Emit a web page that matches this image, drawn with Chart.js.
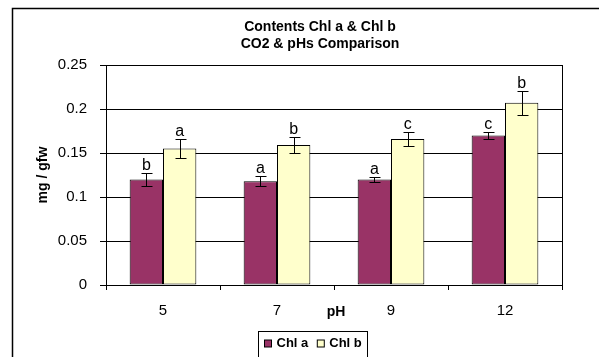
<!DOCTYPE html>
<html>
<head>
<meta charset="utf-8">
<script src="https://cdn.jsdelivr.net/npm/chart.js@4/dist/chart.umd.min.js"></script>
<style>
html,body{margin:0;padding:0;background:#fff;}
#wrap{width:599px;height:357px;position:relative;}
</style>
</head>
<body>
<div id="wrap"><canvas id="c" width="599" height="357"></canvas></div>
<script>
const categories = ['5', '7', '9', '12'];
const chlA = [0.120, 0.118, 0.120, 0.170];
const chlB = [0.155, 0.159, 0.166, 0.207];
const errA = [0.0075, 0.006, 0.0027, 0.0043];
const errB = [0.011, 0.009, 0.0083, 0.0135];
const lettersA = ['b', 'a', 'a', 'c'];
const lettersB = ['a', 'b', 'c', 'b'];
const yTickLabels = ['0', '0.05', '0.1', '0.15', '0.2', '0.25'];
const titleLines = ['Contents Chl a & Chl b', 'CO2 & pHs Comparison'];
const xTitle = 'pH';
const yTitle = 'mg / gfw';

const FONT = "'Liberation Sans', Arial, sans-serif";
const errs = [errA, errB];
const letters = [lettersA, lettersB];

const decor = {
  id: 'decor',
  beforeDraw(chart) {
    const ctx = chart.ctx;
    ctx.save();
    ctx.fillStyle = '#fff';
    ctx.fillRect(0, 0, chart.width, chart.height);
    ctx.strokeStyle = '#000';
    ctx.lineWidth = 1.5;
    ctx.strokeRect(12.5, 8.5, 700, 500);
    ctx.restore();
  },
  afterDatasetsDraw(chart) {
    const ctx = chart.ctx;
    const y = chart.scales.y;
    const ca = chart.chartArea;
    ctx.save();
    // plot frame right edge
    ctx.strokeStyle = '#000';
    ctx.lineWidth = 1;
    ctx.beginPath();
    ctx.moveTo(Math.round(ca.right) + 0.5, ca.top);
    ctx.lineTo(Math.round(ca.right) + 0.5, ca.bottom);
    ctx.stroke();
    // error bars and letters
    chart.data.datasets.forEach((ds, di) => {
      const meta = chart.getDatasetMeta(di);
      meta.data.forEach((bar, i) => {
        const v = ds.data[i];
        const e = errs[di][i];
        const x = Math.round(bar.x) + 0.5;
        const yt = Math.round(y.getPixelForValue(v + e)) + 0.5;
        const yb = Math.round(y.getPixelForValue(v - e)) + 0.5;
        ctx.strokeStyle = '#000';
        ctx.lineWidth = 1;
        ctx.beginPath();
        ctx.moveTo(x, yt); ctx.lineTo(x, yb);
        ctx.moveTo(x - 5, yt); ctx.lineTo(x + 6, yt);
        ctx.moveTo(x - 5, yb); ctx.lineTo(x + 6, yb);
        ctx.stroke();
        ctx.fillStyle = '#000';
        ctx.font = '16px ' + FONT;
        ctx.textAlign = 'center';
        ctx.textBaseline = 'alphabetic';
        ctx.fillText(letters[di][i], bar.x, yt - 4);
      });
    });
    // title
    ctx.fillStyle = '#000';
    ctx.font = 'bold 14px ' + FONT;
    ctx.textAlign = 'center';
    ctx.textBaseline = 'middle';
    ctx.fillText(titleLines[0], 320, 27);
    ctx.fillText(titleLines[1], 320, 44);
    // x title (inline with ticks)
    ctx.font = 'bold 14px ' + FONT;
    ctx.fillText(xTitle, 336, 312);
    // y title
    ctx.save();
    ctx.translate(43, (ca.top + ca.bottom) / 2);
    ctx.rotate(-Math.PI / 2);
    ctx.fillText(yTitle, 0, 0);
    ctx.restore();
    // legend
    ctx.font = 'bold 13px ' + FONT;
    const sq = 7, gapSq = 5, gapItem = 9, pad = 6;
    const items = chart.data.datasets.map(d => ({label: d.label, color: d.backgroundColor, w: ctx.measureText(d.label).width}));
    let total = pad * 2;
    items.forEach((it, k) => { total += sq + gapSq + it.w + (k < items.length - 1 ? gapItem : 0); });
    const cx = 312.5;
    const bx = Math.round(cx - total / 2) + 0.5;
    const by = 331.5;
    ctx.strokeStyle = '#000';
    ctx.lineWidth = 1;
    ctx.strokeRect(bx, by, Math.round(total), 40);
    let xx = bx + pad;
    const ty = 343.5;
    ctx.textAlign = 'left';
    items.forEach((it) => {
      ctx.fillStyle = it.color;
      ctx.fillRect(xx, ty - sq / 2, sq, sq);
      ctx.strokeRect(xx, ty - sq / 2, sq, sq);
      xx += sq + gapSq;
      ctx.fillStyle = '#000';
      ctx.fillText(it.label, xx, ty);
      xx += it.w + gapItem;
    });
    ctx.restore();
  }
};

new Chart(document.getElementById('c'), {
  type: 'bar',
  data: {
    labels: categories,
    datasets: [
      {label: 'Chl a', data: chlA, backgroundColor: '#993366', borderColor: '#000', borderWidth: 1, borderSkipped: false},
      {label: 'Chl b', data: chlB, backgroundColor: '#FFFFCC', borderColor: '#000', borderWidth: 1, borderSkipped: false}
    ]
  },
  options: {
    responsive: false,
    animation: false,
    devicePixelRatio: 1,
    layout: {padding: {top: 65, right: 37, left: 0, bottom: 0}},
    datasets: {bar: {categoryPercentage: 0.585, barPercentage: 1.0}},
    plugins: {legend: {display: false}, title: {display: false}, tooltip: {enabled: false}},
    scales: {
      x: {
        grid: {offset: true, drawOnChartArea: false, color: '#000', tickLength: 5},
        border: {display: true, color: '#000'},
        ticks: {color: '#000', font: {family: FONT, size: 15}, padding: 12},
        afterFit(s) { s.height = 72; }
      },
      y: {
        min: 0, max: 0.25,
        grid: {color: '#000', tickLength: 6},
        border: {display: true, color: '#000'},
        ticks: {
          stepSize: 0.05, color: '#000', font: {family: FONT, size: 15}, padding: 13,
          callback: (val, idx) => yTickLabels[idx]
        },
        afterFit(s) { s.width = 106; }
      }
    }
  },
  plugins: [decor]
});
</script>
</body>
</html>
